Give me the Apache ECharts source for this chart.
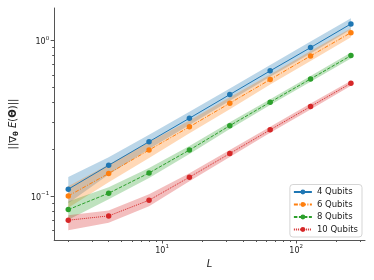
<!DOCTYPE html>
<html><head><meta charset="utf-8">
<script src="https://cdn.jsdelivr.net/npm/echarts@6/dist/echarts.min.js"></script>
<style>html,body{margin:0;padding:0;background:#fff}#c{width:374px;height:280px}</style>
</head><body><div id="c"></div>
<script>
// Circuit depth L
const L = [2, 4, 8, 16, 32, 64, 128, 256];

// Mean gradient norms and band bounds
const q4    = [0.111, 0.158, 0.224, 0.317, 0.450, 0.639, 0.902, 1.28];
const q4Up  = [0.133, 0.178, 0.248, 0.349, 0.492, 0.698, 0.986, 1.39];
const q4Lo  = [0.090, 0.138, 0.201, 0.287, 0.411, 0.585, 0.825, 1.18];

const q6    = [0.1004, 0.140, 0.198, 0.279, 0.396, 0.562, 0.797, 1.125];
const q6Up  = [0.116, 0.160, 0.223, 0.307, 0.433, 0.605, 0.858, 1.20];
const q6Lo  = [0.0842, 0.123, 0.176, 0.254, 0.362, 0.522, 0.740, 1.05];

const q8    = [0.082, 0.1045, 0.141, 0.198, 0.284, 0.402, 0.567, 0.801];
const q8Up  = [0.0923, 0.114, 0.152, 0.210, 0.299, 0.420, 0.593, 0.837];
const q8Lo  = [0.0707, 0.0956, 0.131, 0.187, 0.270, 0.385, 0.543, 0.767];

const q10   = [0.0701, 0.0747, 0.0942, 0.1325, 0.188, 0.267, 0.377, 0.532];
const q10Up = [0.0755, 0.0808, 0.103, 0.1406, 0.198, 0.279, 0.394, 0.552];
const q10Lo = [0.0604, 0.0676, 0.0862, 0.1249, 0.1785, 0.2555, 0.361, 0.513];

const seriesNames = ['4 Qubits', '6 Qubits', '8 Qubits', '10 Qubits'];

// Tick values and labels (base / exponent)
const xMajor = [10, 100];
const xMajorExp = ['1', '2'];
const xMinor = [2, 3, 4, 5, 6, 7, 8, 9, 20, 30, 40, 50, 60, 70, 80, 90, 200, 300];
const yMajor = [0.1, 1];
const yMajorExp = ['−1', '0'];
const yMinor = [0.06, 0.07, 0.08, 0.09, 0.2, 0.3, 0.4, 0.5, 0.6, 0.7, 0.8, 0.9];

const colors = ['#1f77b4', '#ff7f0e', '#2ca02c', '#d62728'];
const dashes = ['solid', [4, 1.5, 1, 1.5], [3.5, 1.5], [1, 1]];
const means = [q4, q6, q8, q10];
const ups = [q4Up, q6Up, q8Up, q10Up];
const los = [q4Lo, q6Lo, q8Lo, q10Lo];

const X_MIN = 1.57, X_MAX = 326, Y_MIN = 0.0523, Y_MAX = 1.62;
const axisColor = '#555';

const supRich = {
  b: { fontSize: 8, color: '#222', fontFamily: 'DejaVu Sans', lineHeight: 11, verticalAlign: 'bottom' },
  s: { fontSize: 5.5, color: '#222', fontFamily: 'DejaVu Sans', lineHeight: 11, verticalAlign: 'top' }
};

function findIdx(arr, v) { return arr.findIndex(m => Math.abs(m - v) / m < 1e-6); }

function bandSeries(i) {
  const data = L.map((x, k) => [x, los[i][k], ups[i][k]]);
  return {
    type: 'custom', xAxisIndex: 0, yAxisIndex: 0, z: 1, silent: true,
    data: data,
    encode: { x: 0, y: [1, 2] },
    renderItem: function (params, api) {
      if (params.dataIndex !== 0) return null;
      const top = data.map(d => api.coord([d[0], d[2]]));
      const bot = data.map(d => api.coord([d[0], d[1]])).reverse();
      return {
        type: 'polygon',
        shape: { points: top.concat(bot) },
        style: { fill: colors[i], opacity: 0.3 }
      };
    }
  };
}

function lineSeries(i) {
  return {
    name: seriesNames[i], type: 'line', xAxisIndex: 0, yAxisIndex: 0, z: 3,
    data: L.map((x, k) => [x, means[i][k]]),
    symbol: 'circle', symbolSize: 5.5, showSymbol: true,
    itemStyle: { color: colors[i] },
    lineStyle: { color: colors[i], width: 1, type: dashes[i] },
    emphasis: { disabled: true },
    animation: false
  };
}

const chart = echarts.init(document.getElementById('c'), null, { renderer: 'canvas' });
const series = [];
for (let i = 0; i < 4; i++) series.push(bandSeries(i));
for (let i = 0; i < 4; i++) series.push(lineSeries(i));

chart.setOption({
  animation: false,
  backgroundColor: '#fff',
  textStyle: { fontFamily: 'DejaVu Sans' },
  grid: { left: 50, right: 9, top: 8, bottom: 40, containLabel: false },
  xAxis: [
    {
      type: 'log', logBase: 10, min: X_MIN, max: X_MAX, position: 'bottom',
      name: 'L', nameLocation: 'middle', nameGap: 19,
      nameTextStyle: { fontStyle: 'italic', fontSize: 10, color: '#222', fontFamily: 'DejaVu Sans' },
      axisLine: { show: true, lineStyle: { color: axisColor, width: 1 } },
      axisTick: { show: true, length: 3.5, customValues: xMajor, lineStyle: { color: axisColor } },
      axisLabel: {
        show: true, customValues: xMajor, margin: 4, rich: supRich,
        formatter: v => { const k = findIdx(xMajor, v); return k < 0 ? '' : '{b|10}{s|' + xMajorExp[k] + '}'; }
      },
      splitLine: { show: true, showMinLine: false, showMaxLine: false, lineStyle: { color: '#e0e0e0', width: 1 } },
      minorTick: { show: false }, minorSplitLine: { show: false }
    },
    {
      type: 'log', logBase: 10, min: X_MIN, max: X_MAX, position: 'bottom', offset: 0,
      axisLine: { show: false },
      axisTick: { show: true, length: 2, customValues: xMinor, lineStyle: { color: axisColor } },
      axisLabel: { show: false },
      splitLine: { show: false }
    }
  ],
  yAxis: [
    {
      type: 'log', logBase: 10, min: Y_MIN, max: Y_MAX, position: 'left',
      name: '{n|||∇}{s|θ}{n| }{i|E}{n|(}{b|Θ}{n|)||}',
      nameLocation: 'middle', nameGap: 27, nameRotate: 90,
      nameTextStyle: {
        color: '#222',
        rich: {
          n: { fontSize: 10, color: '#222', fontFamily: 'DejaVu Sans', lineHeight: 14 },
          s: { fontSize: 7, fontWeight: 'bold', color: '#222', fontFamily: 'DejaVu Sans', verticalAlign: 'bottom', lineHeight: 14, padding: [4, 0, 0, 0] },
          i: { fontSize: 10, fontStyle: 'italic', color: '#222', fontFamily: 'DejaVu Sans', lineHeight: 14 },
          b: { fontSize: 10, fontWeight: 'bold', color: '#222', fontFamily: 'DejaVu Sans', lineHeight: 14 }
        }
      },
      axisLine: { show: true, lineStyle: { color: axisColor, width: 1 } },
      axisTick: { show: true, length: 3.5, customValues: yMajor, lineStyle: { color: axisColor } },
      axisLabel: {
        show: true, customValues: yMajor, margin: 5, rich: supRich,
        formatter: v => { const k = findIdx(yMajor, v); return k < 0 ? '' : '{b|10}{s|' + yMajorExp[k] + '}'; }
      },
      splitLine: { show: true, showMinLine: false, showMaxLine: false, lineStyle: { color: '#e0e0e0', width: 1 } },
      minorTick: { show: false }, minorSplitLine: { show: false }
    },
    {
      type: 'log', logBase: 10, min: Y_MIN, max: Y_MAX, position: 'left', offset: 0,
      axisLine: { show: false },
      axisTick: { show: true, length: 2, customValues: yMinor, lineStyle: { color: axisColor } },
      axisLabel: { show: false },
      splitLine: { show: false }
    }
  ],
  legend: {
    data: seriesNames,
    orient: 'vertical',
    right: 12, bottom: 43,
    itemWidth: 18, itemHeight: 6, itemGap: 3.5,
    backgroundColor: 'rgba(255,255,255,0.85)',
    borderColor: '#d5d5d5', borderWidth: 1, borderRadius: 3,
    padding: [3, 4, 3, 3],
    textStyle: { fontSize: 8.5, color: '#222', fontFamily: 'DejaVu Sans' },
    selectedMode: false
  },
  series: series
});
</script>
</body></html>
